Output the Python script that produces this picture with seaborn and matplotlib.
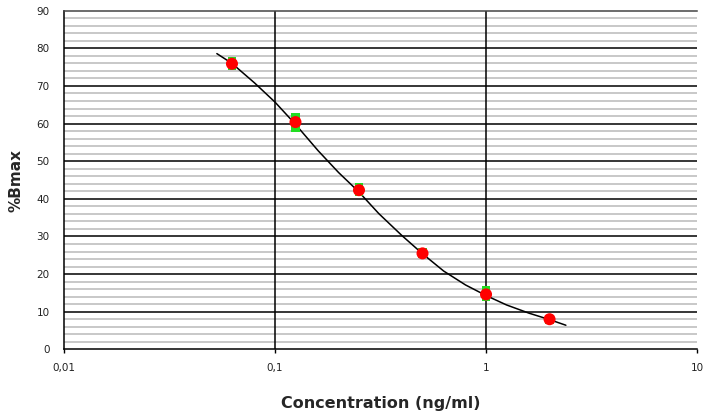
import matplotlib
matplotlib.use("Agg")
import matplotlib.pyplot as plt
import seaborn as sns
import pandas as pd
import numpy as np
from matplotlib.ticker import FixedLocator, MultipleLocator, NullFormatter

# --- data ---
conc = [0.0625, 0.125, 0.25, 0.5, 1.0, 2.0]
mean_bmax = [75.9, 60.4, 42.3, 25.5, 14.6, 8.0]
rep1_bmax = [76.6, 61.7, 43.0, 25.7, 15.7, 8.1]
rep2_bmax = [75.4, 58.8, 41.8, 25.3, 14.0, 7.9]

curve_x = [0.053, 0.0625, 0.08, 0.1, 0.125, 0.16, 0.2, 0.25, 0.31, 0.4,
           0.5, 0.63, 0.8, 1.0, 1.25, 1.6, 2.0, 2.39]
curve_y = [78.6, 76.0, 70.8, 65.7, 59.8, 52.8, 47.0, 41.8, 36.1, 30.2,
           25.4, 20.8, 17.1, 14.3, 11.8, 9.6, 7.9, 6.4]

xtick_vals = [0.01, 0.1, 1, 10]
xtick_labels = ["0,01", "0,1", "1", "10"]

sns.set_style("white")
plt.rcParams["font.family"] = ["DejaVu Sans"]

fig = plt.figure(figsize=(7.06, 4.17), dpi=100)
ax = fig.add_axes([0.0907, 0.1623, 0.8966, 0.812])

ax.set_xscale("log")
ax.set_xlim(0.01, 10)
ax.set_ylim(0, 90)

# grid lines
for v in np.arange(2, 90, 2):
    if v % 10 != 0:
        ax.axhline(v, color="#c4c4c4", lw=1.3, zorder=0)
for v in range(10, 90, 10):
    ax.axhline(v, color="black", lw=1.1, zorder=1)
for v in [0.1, 1]:
    ax.axvline(v, color="black", lw=1.1, zorder=1)

curve_df = pd.DataFrame({"x": curve_x, "y": curve_y})
sns.lineplot(data=curve_df, x="x", y="y", ax=ax, color="black", lw=1.1,
             zorder=3, sort=False)

reps = pd.DataFrame({"x": conc + conc, "y": rep1_bmax + rep2_bmax})
sns.scatterplot(data=reps, x="x", y="y", ax=ax, marker="s", s=36,
                color="#22dd22", edgecolor="none", linewidth=0, zorder=4)
pts = pd.DataFrame({"x": conc, "y": mean_bmax})
sns.scatterplot(data=pts, x="x", y="y", ax=ax, marker="o", s=75,
                color="#ff0000", edgecolor="none", linewidth=0, zorder=5)

ax.xaxis.set_major_locator(FixedLocator(xtick_vals))
ax.set_xticklabels(xtick_labels)
ax.xaxis.set_minor_formatter(NullFormatter())
ax.xaxis.set_minor_locator(FixedLocator([]))
ax.yaxis.set_major_locator(MultipleLocator(10))

ax.tick_params(axis="x", direction="out", length=3, width=1, pad=7,
               labelsize=7.5, colors="black", bottom=True)
ax.tick_params(axis="y", direction="out", length=0, width=1, pad=10.5,
               labelsize=7.5, left=True)
for lab in ax.get_xticklabels() + ax.get_yticklabels():
    lab.set_color("#222222")

for side in ["left", "bottom", "right", "top"]:
    ax.spines[side].set_color("black")
    ax.spines[side].set_linewidth(1.1)
ax.spines["top"].set_color("#444444")
ax.spines["right"].set_visible(False)

ax.set_xlabel("Concentration (ng/ml)", fontsize=11.5, fontweight="bold")
ax.set_ylabel("%Bmax", fontsize=11, fontweight="bold")
ax.xaxis.set_label_coords(0.5, -0.159)
ax.xaxis.label.set_va("center")
ax.yaxis.set_label_coords(-0.076, 0.5)
ax.yaxis.label.set_va("center")

fig.savefig("out.png", dpi=100)
